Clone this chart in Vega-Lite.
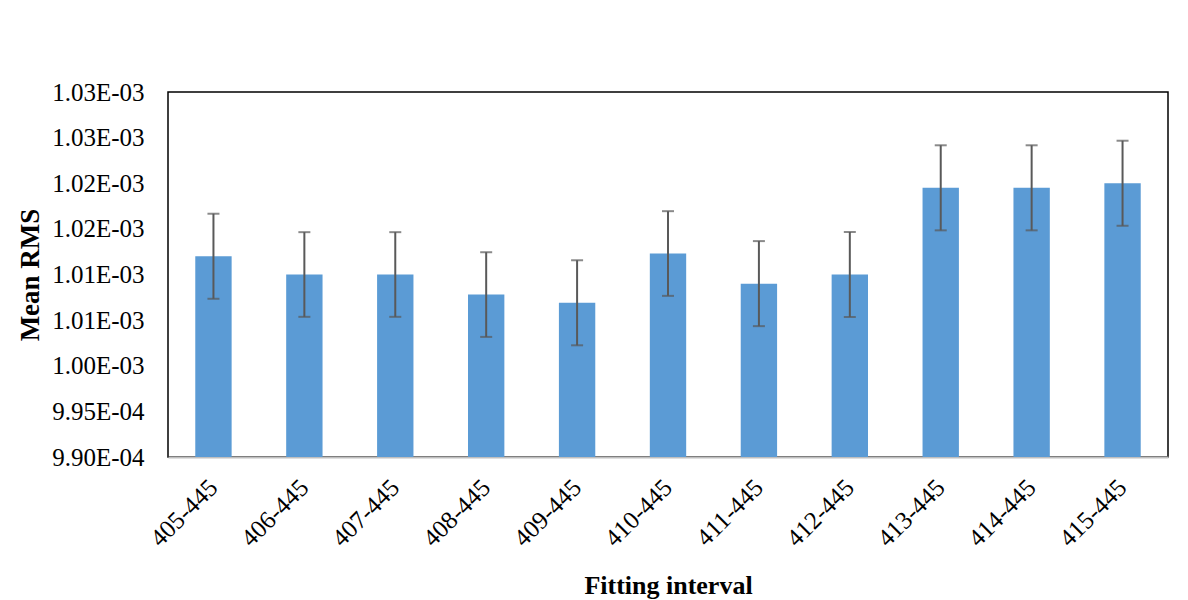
{
  "$schema": "https://vega.github.io/schema/vega-lite/v6.json",
  "width": 1000,
  "height": 365,
  "autosize": "none",
  "padding": {"left": 168, "top": 92, "right": 20, "bottom": 143},
  "background": "white",
  "data": {
    "values": [
      {"interval": "405-445", "mean": 0.0010120, "err": 0.00000466},
      {"interval": "406-445", "mean": 0.0010100, "err": 0.00000464},
      {"interval": "407-445", "mean": 0.0010100, "err": 0.00000464},
      {"interval": "408-445", "mean": 0.0010078, "err": 0.00000464},
      {"interval": "409-445", "mean": 0.0010069, "err": 0.00000466},
      {"interval": "410-445", "mean": 0.0010123, "err": 0.00000464},
      {"interval": "411-445", "mean": 0.0010090, "err": 0.00000466},
      {"interval": "412-445", "mean": 0.0010100, "err": 0.00000466},
      {"interval": "413-445", "mean": 0.0010195, "err": 0.00000466},
      {"interval": "414-445", "mean": 0.0010195, "err": 0.00000466},
      {"interval": "415-445", "mean": 0.0010200, "err": 0.00000466}
    ]
  },
  "encoding": {
    "x": {
      "field": "interval",
      "type": "nominal",
      "sort": null,
      "scale": {"paddingInner": 0.6, "paddingOuter": 0.3},
      "axis": {
        "title": "Fitting interval",
        "titleFontSize": 26,
        "titleFontWeight": "bold",
        "titleColor": "#000",
        "titleY": 136,
        "titleBaseline": "alphabetic",
        "labelAngle": -45,
        "labelAlign": "right",
        "labelBaseline": "middle",
        "labelFontSize": 25,
        "labelColor": "#000",
        "labelPadding": 26,
        "ticks": false,
        "domainColor": "#BFBFBF",
        "domainWidth": 2
      }
    }
  },
  "layer": [
    {
      "mark": {"type": "bar", "color": "#5B9BD5"},
      "encoding": {
        "y": {
          "field": "mean",
          "type": "quantitative",
          "scale": {"domain": [0.00099, 0.00103], "zero": false, "nice": false},
          "axis": {
            "title": "Mean RMS",
            "titleFontSize": 27,
            "titleFontWeight": "bold",
            "titleColor": "#000",
            "titleX": -138,
            "titleBaseline": "middle",
            "values": [0.00099, 0.000995, 0.001, 0.001005, 0.00101, 0.001015, 0.00102, 0.001025, 0.00103],
            "labelExpr": "datum.value < 0.001 ? format(datum.value * 10000 + 1e-9, '.2f') + 'E-04' : format(datum.value * 1000 + 1e-9, '.2f') + 'E-03'",
            "labelFontSize": 25,
            "labelColor": "#000",
            "labelPadding": 24,
            "grid": false,
            "domain": false,
            "ticks": false
          }
        },
        "y2": {"datum": 0.00099}
      }
    },
    {
      "mark": {"type": "errorbar", "ticks": true, "size": 12, "thickness": 2, "color": "#595959"},
      "encoding": {
        "y": {"field": "mean", "type": "quantitative", "title": "Mean RMS"},
        "yError": {"field": "err"}
      }
    }
  ],
  "config": {
    "font": "Liberation Serif",
    "view": {"stroke": "#000", "strokeWidth": 1.5}
  }
}
